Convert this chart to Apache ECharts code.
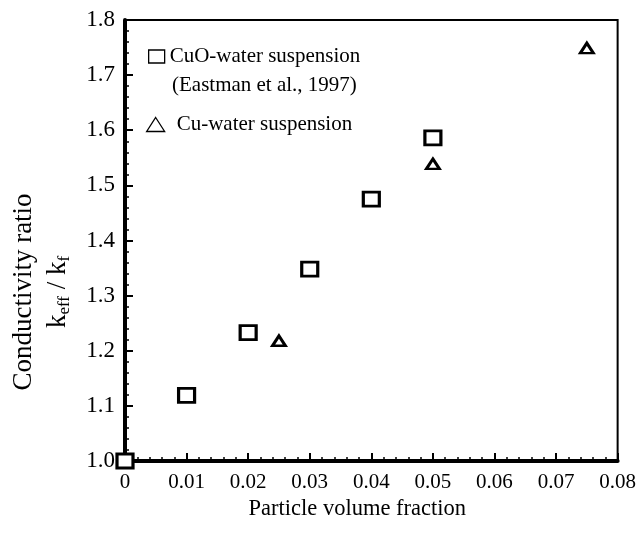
<!DOCTYPE html>
<html>
<head>
<meta charset="utf-8">
<script src="https://cdn.jsdelivr.net/npm/echarts@6/dist/echarts.min.js"></script>
<style>html,body{margin:0;padding:0;background:#fff}#c{width:639px;height:538px}</style>
</head>
<body>
<div id="c"></div>
<script>
// Data
var cuoX = [0, 0.01, 0.02, 0.03, 0.04, 0.05];
var cuoY = [1.0, 1.119, 1.233, 1.348, 1.475, 1.586];
var cuX = [0.025, 0.05, 0.075];
var cuY = [1.218, 1.539, 1.749];
var xTicks = [0, 0.01, 0.02, 0.03, 0.04, 0.05, 0.06, 0.07, 0.08];
var yTicks = [1.0, 1.1, 1.2, 1.3, 1.4, 1.5, 1.6, 1.7, 1.8];
var cuoName = 'CuO-water suspension';
var cuoRef = '(Eastman et al., 1997)';
var cuName = 'Cu-water suspension';
var xTitle = 'Particle volume fraction';
var yTitle1 = 'Conductivity ratio';

var F = '"Liberation Serif", "Times New Roman", serif';
var chart = echarts.init(document.getElementById('c'), null, {renderer: 'canvas'});

function pairs(xs, ys) { return xs.map(function (x, i) { return [x, ys[i]]; }); }

var axisCommon = {
  axisLine: {show: true, onZero: false, lineStyle: {color: '#000', width: 4}},
  axisTick: {show: true, inside: true, length: 8, lineStyle: {color: '#000', width: 2}},
  minorTick: {show: true, splitNumber: 5, length: 4, lineStyle: {color: '#000', width: 1.5}},
  splitLine: {show: false},
  minorSplitLine: {show: false}
};

chart.setOption({
  backgroundColor: '#fff',
  animation: false,
  grid: {left: 125, right: 18, top: 20, bottom: 77, show: true, borderColor: '#000', borderWidth: 2, backgroundColor: 'transparent'},
  xAxis: Object.assign({
    type: 'value', min: xTicks[0], max: xTicks[xTicks.length - 1], interval: 0.01,
    name: xTitle, nameLocation: 'middle', nameGap: 33,
    nameTextStyle: {fontFamily: F, fontSize: 22.5, color: '#000', padding: [0, 28, 0, 0]},
    axisLabel: {margin: 11, fontFamily: F, fontSize: 21, color: '#000',
      formatter: function (v) { return Math.abs(v) < 1e-9 ? '0' : v.toFixed(2); }}
  }, axisCommon),
  yAxis: Object.assign({
    type: 'value', min: yTicks[0], max: yTicks[yTicks.length - 1], interval: 0.1,
    axisLabel: {margin: 10, fontFamily: F, fontSize: 23, color: '#000',
      formatter: function (v) { return v.toFixed(1); }}
  }, axisCommon),
  legend: [
    {
      data: [{name: cuoName, icon: 'rect', itemStyle: {color: '#fff', borderColor: '#000', borderWidth: 1.3}}],
      left: 148, top: 46, padding: 0, itemWidth: 16, itemHeight: 13, selectedMode: false,
      textStyle: {fontFamily: F, fontSize: 21, color: '#000'}
    },
    {
      data: [{name: cuName, icon: 'triangle', itemStyle: {color: '#fff', borderColor: '#000', borderWidth: 1.3}}],
      left: 146, top: 114, padding: 0, itemWidth: 18, itemHeight: 14, selectedMode: false,
      textStyle: {fontFamily: F, fontSize: 21, color: '#000', padding: [0, 0, 0, 7]}
    }
  ],
  graphic: [
    {type: 'text', left: 172, top: 75, silent: true,
     style: {text: cuoRef, font: '21px ' + F, fill: '#000'}},
    {type: 'group', x: 40, y: 292, rotation: Math.PI / 2, silent: true, children: [
      {type: 'text', x: 0, y: 0,
       style: {
         text: '{t|' + yTitle1 + '}\n{k|k}{s|eff}{k| / k}{s|f}',
         align: 'center', verticalAlign: 'middle', fill: '#000',
         rich: {
           t: {fontFamily: F, fontSize: 27, lineHeight: 35, fill: '#000'},
           k: {fontFamily: F, fontSize: 27, lineHeight: 32, verticalAlign: 'middle', fill: '#000'},
           s: {fontFamily: F, fontSize: 17, lineHeight: 32, verticalAlign: 'bottom', fill: '#000'}
         }
       }}
    ]}
  ],
  series: [
    {
      name: cuoName, type: 'scatter', data: pairs(cuoX, cuoY), clip: false,
      symbol: 'rect', symbolSize: [16, 14],
      itemStyle: {color: '#fff', borderColor: '#000', borderWidth: 3, opacity: 1},
      z: 5
    },
    {
      name: cuName, type: 'scatter', data: pairs(cuX, cuY), clip: false,
      symbol: 'triangle', symbolSize: [13, 10],
      itemStyle: {color: '#fff', borderColor: '#000', borderWidth: 2.8, opacity: 1},
      z: 5
    }
  ]
});
</script>
</body>
</html>
